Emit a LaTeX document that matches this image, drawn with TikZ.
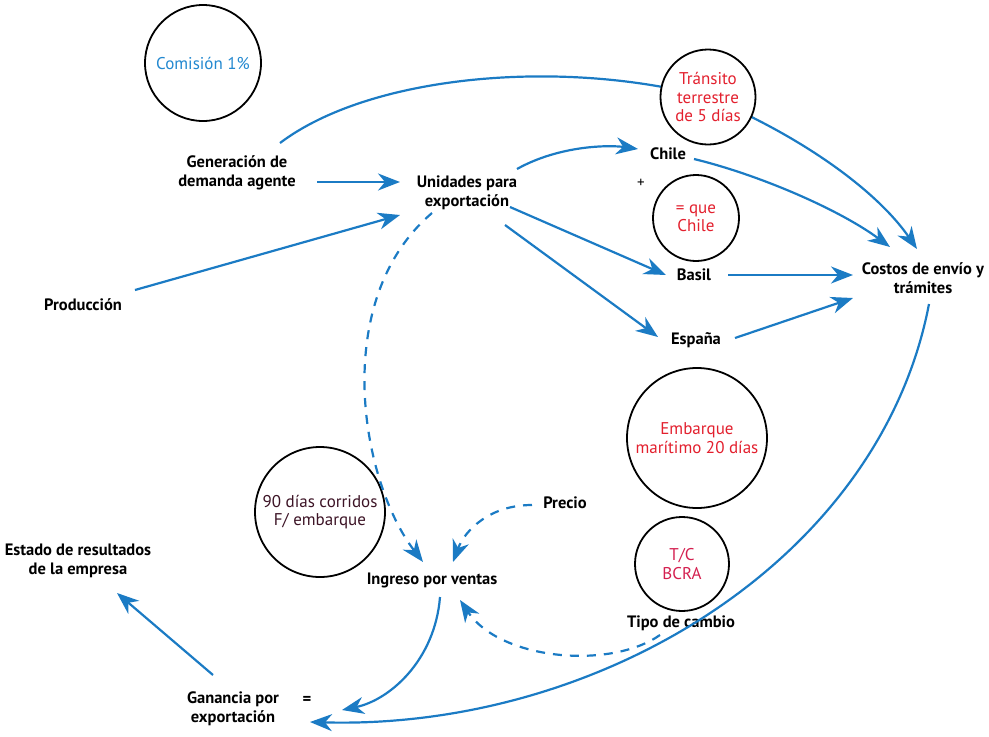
\documentclass[tikz,border=0pt]{standalone}
\usepackage{fontspec}
\setmainfont{PT Sans}
\usetikzlibrary{arrows.meta}
\definecolor{cblue}{HTML}{1B7BC4}
\definecolor{cred}{HTML}{E3202E}
\definecolor{ccrim}{HTML}{D41F4F}
\definecolor{cmaroon}{HTML}{3D1426}
\definecolor{ccom}{HTML}{2288D0}
\tikzset{
  lbl/.style={font=\fontsize{16.5}{19.5}\selectfont\bfseries, align=center, inner sep=0pt},
  bub/.style={circle, draw=black, line width=1.8pt, fill=white, inner sep=0pt, align=center, font=\fontsize{17}{18.5}\selectfont},
  link/.style={draw=cblue, line width=2.2pt, -{Stealth[length=22pt,width=17pt,inset=7pt]}},
  plain/.style={draw=cblue, line width=2.2pt},
  dlink/.style={link, dash pattern=on 9pt off 8pt}
}
\begin{document}
\begin{tikzpicture}[x=1pt,y=-1pt]
\useasboundingbox (0,0) rectangle (989,737);
% text nodes
\node[lbl] (gen) at (237,173) {Generación de\\demanda agente};
\node[lbl] (unid) at (467,193) {Unidades para\\exportación};
\node[lbl] (prod) at (83,305) {Producción};
\node[lbl] (chile) at (668,154) {Chile};
\node[lbl] (basil) at (694,275) {Basil};
\node[lbl] (espana) at (696,340) {España};
\node[lbl] (costos) at (923,278) {Costos de envío y\\trámites};
\node[lbl] (precio) at (565,503) {Precio};
\node[lbl] (ingreso) at (432,580) {Ingreso por ventas};
\node[lbl] (tipo) at (681,623) {Tipo de cambio};
\node[lbl] (estado) at (78,561) {Estado de resultados\\de la empresa};
\node[lbl] (ganancia) at (233,709) {Ganancia por\\exportación};
\node[font=\fontsize{15}{16}\selectfont, inner sep=0pt] (plus) at (641,183) {+};
\node[lbl] (eq) at (307,700) {=};
% connectors behind circles
\draw[plain] ([shift={(43,-30)}]gen.center) .. controls (370,75) and (560,58) .. (708,97);
\draw[link] (708,97) .. controls (810,140) and (880,195) .. ([shift={(-6,-29)}]costos.center);
\draw[link] ([shift={(6,26)}]costos.center) .. controls (880,560) and (600,730) .. ([shift={(77,13)}]ganancia.center);
% circles
\node[bub, minimum size=116pt, text=ccom] (comision) at (203,63) {Comisión 1\%};
\node[bub, minimum size=95pt, text=cred] (transito) at (708,97) {Tránsito\\terrestre\\de 5 días};
\node[bub, minimum size=86pt, text=cred] (igual) at (696,218) {= que\\Chile};
\node[bub, minimum size=130pt, text=cmaroon] (dias) at (320,512) {90 días corridos\\F/ embarque};
\node[bub, minimum size=140pt, text=cred] (embarque) at (697,438) {Embarque\\marítimo 20 días};
\node[bub, minimum size=94pt, text=ccrim] (tc) at (682,564) {T/C\\BCRA};
% connectors
\draw[link] ([shift={(80,9)}]gen.center) -- ([shift={(-67,-11)}]unid.center);
\draw[link] ([shift={(52,-15)}]prod.center) -- ([shift={(-67,22)}]unid.center);
\draw[link] ([shift={(50,-24)}]unid.center) .. controls (560,145) and (610,145) .. ([shift={(-30,-5)}]chile.center);
\draw[link] ([shift={(26,5)}]chile.center) .. controls (760,175) and (840,210) .. ([shift={(-33,-31)}]costos.center);
\draw[link] ([shift={(43,14)}]unid.center) -- ([shift={(-28,0)}]basil.center);
\draw[link] ([shift={(38,32)}]unid.center) -- ([shift={(-38,-3)}]espana.center);
\draw[link] ([shift={(34,0)}]basil.center) -- ([shift={(-70,-3)}]costos.center);
\draw[link] ([shift={(39,-2)}]espana.center) -- ([shift={(-70,20)}]costos.center);
\draw[dlink] ([shift={(-35,20)}]unid.center) .. controls (330,300) and (360,480) .. ([shift={(-9,-18)}]ingreso.center);
\draw[dlink] ([shift={(-33,2)}]precio.center) .. controls (490,505) and (465,530) .. ([shift={(21,-18)}]ingreso.center);
\draw[dlink] ([shift={(-21,12)}]tipo.center) .. controls (610,670) and (500,660) .. ([shift={(28,20)}]ingreso.center);
\draw[link] ([shift={(8,17)}]ingreso.center) .. controls (435,660) and (390,700) .. ([shift={(109,1)}]ganancia.center);
\draw[link] ([shift={(-20,-34)}]ganancia.center) -- ([shift={(39,32)}]estado.center);
\end{tikzpicture}
\end{document}
